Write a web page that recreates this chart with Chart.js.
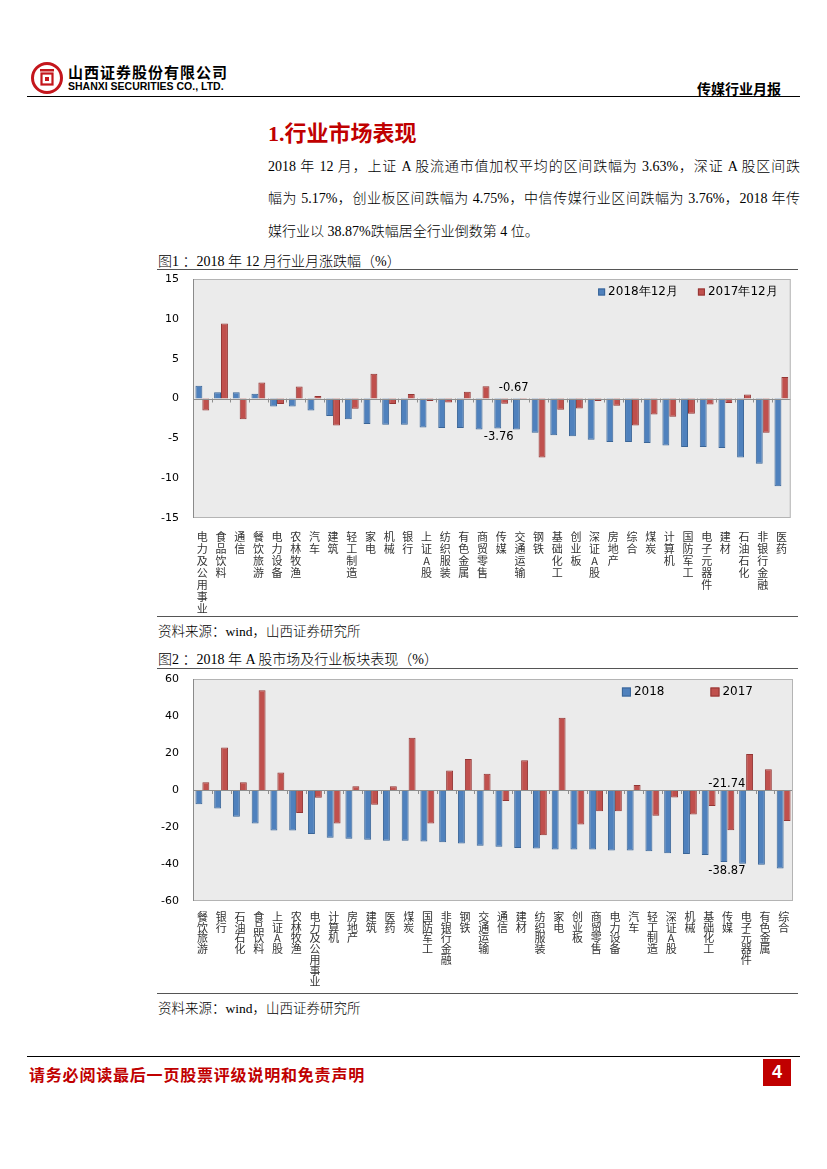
<!DOCTYPE html>
<html>
<head>
<meta charset="utf-8">
<script src="https://cdn.jsdelivr.net/npm/chart.js"></script>
<style>
  body { margin: 0; background: #fff; }
  .page { position: relative; width: 827px; height: 1169px; overflow: hidden; color: #000;
          font-family: "Liberation Serif", "Noto Sans CJK SC", serif; }
  .abs { position: absolute; white-space: nowrap; }
  .rule { position: absolute; height: 0; }
  .cn { font-family: "Noto Sans CJK SC", sans-serif; }
  .para { position: absolute; left: 268px; width: 532px; font-size: 14px; line-height: 20px; font-weight: 300; }
  .just { text-align: justify; text-align-last: justify; }
  .figtitle { font-size: 14px; font-weight: 300; }
  .src { font-size: 13.5px; font-weight: 300; }
  .box { position: absolute; }
</style>
</head>
<body>
<div class="page">
  <!-- header -->
  <svg class="abs" style="left:30px;top:61px" width="34" height="34" viewBox="0 0 34 34">
    <circle cx="17" cy="17" r="14.5" fill="none" stroke="#c4161c" stroke-width="3"/>
    <rect x="10" y="8" width="14" height="2.5" fill="#c4161c"/>
    <rect x="11.5" y="12.5" width="11" height="11" fill="none" stroke="#c4161c" stroke-width="2.2"/>
    <rect x="15" y="16" width="4" height="4" fill="#c4161c"/>
  </svg>
  <div class="abs cn" style="left:68px;top:61px;font-size:15px;font-weight:700;letter-spacing:1px;">山西证券股份有限公司</div>
  <div class="abs" style="left:68px;top:80px;font-family:'Liberation Sans',sans-serif;font-size:10.5px;font-weight:700;">SHANXI SECURITIES CO., LTD.</div>
  <div class="abs cn" style="left:697px;top:78px;font-size:14px;font-weight:700;">传媒行业月报</div>
  <div class="rule" style="left:27px;top:96px;width:773px;border-top:1.5px solid #000;"></div>

  <!-- section heading and text -->
  <div class="abs" style="left:268px;top:115px;font-size:22px;font-weight:700;color:#c00000;">1.<span class="cn">行业市场表现</span></div>
  <div class="para just" style="top:157px;">2018 年 12 月，上证 A 股流通市值加权平均的区间跌幅为 3.63%，深证 A 股区间跌</div>
  <div class="para just" style="top:189px;">幅为 5.17%，创业板区间跌幅为 4.75%，中信传媒行业区间跌幅为 3.76%，2018 年传</div>
  <div class="para" style="top:222px;">媒行业以 38.87%跌幅居全行业倒数第 4 位。</div>

  <!-- figure 1 -->
  <div class="abs figtitle" style="left:158px;top:250px;">图1 ：2018 年 12 月行业月涨跌幅（%）</div>
  <div class="rule" style="left:157px;top:269px;width:641px;border-top:1.5px solid #555;"></div>
  <div class="box" style="left:150px;top:272px;width:650px;height:345px;"><canvas id="chart1"></canvas></div>
  <div class="rule" style="left:157px;top:616px;width:641px;border-top:1.5px solid #555;"></div>
  <div class="abs src" style="left:158px;top:620px;">资料来源：wind，山西证券研究所</div>

  <!-- figure 2 -->
  <div class="abs figtitle" style="left:158px;top:648px;">图2 ：2018 年 A 股市场及行业板块表现（%）</div>
  <div class="rule" style="left:157px;top:668px;width:641px;border-top:1.5px solid #555;"></div>
  <div class="box" style="left:150px;top:672px;width:650px;height:322px;"><canvas id="chart2"></canvas></div>
  <div class="rule" style="left:157px;top:993px;width:641px;border-top:1.5px solid #555;"></div>
  <div class="abs src" style="left:158px;top:997px;">资料来源：wind，山西证券研究所</div>

  <!-- footer -->
  <div class="rule" style="left:27px;top:1056px;width:773px;border-top:1.5px solid #000;"></div>
  <div class="abs cn" style="left:29px;top:1062px;font-size:16px;font-weight:700;letter-spacing:0.8px;color:#c00000;">请务必阅读最后一页股票评级说明和免责声明</div>
  <div class="abs" style="left:763px;top:1059px;width:28px;height:27px;background:#c00000;color:#fff;font-family:'Liberation Sans',sans-serif;font-size:18px;font-weight:700;text-align:center;line-height:27px;">4</div>
</div>

<script>
// chart 1: 2018年12月行业月涨跌幅
const cats1 = ["电力及公用事业", "食品饮料", "通信", "餐饮旅游", "电力设备", "农林牧渔", "汽车", "建筑",
  "轻工制造", "家电", "机械", "银行", "上证A股", "纺织服装", "有色金属", "商贸零售",
  "传媒", "交通运输", "钢铁", "基础化工", "创业板", "深证A股", "房地产", "综合",
  "煤炭", "计算机", "国防军工", "电子元器件", "建材", "石油石化", "非银行金融", "医药"];
const dec2018 = [1.6, 0.8, 0.8, 0.6, -1.0, -1.0, -1.5, -2.2,
  -2.6, -3.2, -3.3, -3.3, -3.63, -3.7, -3.7, -3.9,
  -3.76, -3.9, -4.3, -4.6, -4.75, -5.17, -5.45, -5.45,
  -5.6, -5.9, -6.1, -6.1, -6.2, -7.4, -8.2, -11.0];
const dec2017 = [-1.5, 9.4, -2.6, 2.0, -0.7, 1.5, 0.3, -3.4,
  -1.3, 3.1, -0.7, 0.55, -0.3, -0.5, 0.85, 1.55,
  -0.67, -0.15, -7.4, -1.4, -1.25, -0.3, -0.9, -3.4,
  -2.0, -2.3, -1.9, -0.75, -0.55, 0.5, -4.3, 2.7];
const yTicks1 = [-15, -10, -5, 0, 5, 10, 15];
const legend1 = ["2018年12月", "2017年12月"];

// chart 2: 2018年A股市场及行业板块表现
const cats2 = ["餐饮旅游", "银行", "石油石化", "食品饮料", "上证A股", "农林牧渔", "电力及公用事业", "计算机",
  "房地产", "建筑", "医药", "煤炭", "国防军工", "非银行金融", "钢铁", "交通运输",
  "通信", "建材", "纺织服装", "家电", "创业板", "商贸零售", "电力设备", "汽车",
  "轻工制造", "深证A股", "机械", "基础化工", "传媒", "电子元器件", "有色金属", "综合"];
const year2018 = [-7.7, -10.0, -14.4, -18.1, -21.9, -21.9, -23.8, -25.8,
  -26.3, -26.9, -27.4, -27.4, -27.8, -28.3, -28.9, -30.2,
  -30.7, -31.3, -31.6, -32.2, -32.2, -32.2, -32.7, -32.7,
  -33.1, -34.2, -34.6, -35.1, -38.87, -39.9, -40.4, -42.4];
const year2017 = [4.2, 23.0, 4.2, 53.9, 9.5, -12.4, -4.2, -18.1,
  2.0, -8.0, 2.0, 28.3, -18.1, 10.6, 16.8, 8.8,
  -5.9, 16.1, -24.5, 39.1, -18.6, -11.5, -11.5, 2.7,
  -13.9, -4.0, -13.3, -8.6, -21.74, 19.4, 11.2, -16.8];
const yTicks2 = [-60, -40, -20, 0, 20, 40, 60];
const legend2 = ["2018", "2017"];

const blue = "#4f81bd", blueEdge = "#3a6597";
const red = "#c0504d", redEdge = "#943634";
const numFont = "DejaVu Sans";

// plot panel, zero line, legend and point labels
const panelPlugin = {
  id: "panel",
  beforeDraw(chart) {
    const { ctx, chartArea: a } = chart;
    ctx.save();
    ctx.fillStyle = "#ebebeb";
    ctx.fillRect(a.left, a.top, a.right - a.left, a.bottom - a.top);
    ctx.restore();
  },
  afterDatasetsDraw(chart, args, opts) {
    const { ctx, chartArea: a } = chart;
    const y0 = chart.scales.y.getPixelForValue(0);
    const n = chart.data.labels.length;
    const step = (a.right - a.left) / n;
    ctx.save();
    ctx.strokeStyle = "#8e8e8e";
    ctx.lineWidth = 1;
    ctx.beginPath();
    ctx.moveTo(a.left, Math.round(y0) + 0.5);
    ctx.lineTo(a.right, Math.round(y0) + 0.5);
    for (let k = 1; k < n; k++) {
      const x = Math.round(a.left + k * step) + 0.5;
      ctx.moveTo(x, y0);
      ctx.lineTo(x, y0 + 4);
    }
    ctx.stroke();

    // border
    ctx.strokeStyle = "#b4b4b4";
    ctx.strokeRect(a.left + 0.5, a.top + 0.5, a.right - a.left - 1, a.bottom - a.top - 1);
    ctx.strokeStyle = "#8a8a8a";
    ctx.beginPath();
    ctx.moveTo(a.left + 0.5, a.top);
    ctx.lineTo(a.left + 0.5, a.bottom);
    ctx.stroke();

    // legend
    const lg = opts.legend;
    ctx.font = lg.size + "px " + numFont;
    ctx.textBaseline = "middle";
    ctx.textAlign = "left";
    let xr = a.right - lg.right;
    const ly = a.top + lg.top;
    for (let i = lg.items.length - 1; i >= 0; i--) {
      const it = lg.items[i];
      const tw = ctx.measureText(it.text).width;
      const tx = xr - tw;
      const sx = tx - 3 - lg.box;
      ctx.fillStyle = it.color;
      ctx.fillRect(sx, ly - lg.box / 2, lg.box, lg.box);
      ctx.strokeStyle = it.edge;
      ctx.strokeRect(sx + 0.5, ly - lg.box / 2 + 0.5, lg.box - 1, lg.box - 1);
      ctx.fillStyle = "#000";
      ctx.fillText(it.text, tx, ly);
      xr = sx - lg.gap;
    }

    // value labels
    ctx.font = "11.5px " + numFont;
    ctx.textAlign = "center";
    ctx.fillStyle = "#000";
    opts.labels.forEach(l => {
      const bar = chart.getDatasetMeta(l.ds).data[l.index];
      const v = chart.data.datasets[l.ds].data[l.index];
      const y = l.atZero ? y0 + l.dy : bar.y + l.dy;
      ctx.fillText(v.toFixed(2), bar.x + l.dx, y);
    });
    ctx.restore();
  }
};

function buildChart(id, cats, s1, s2, names, yTicks, xHeight, tickPad, lineH, legendOpts, labels) {
  const ctx = document.getElementById(id);
  return new Chart(ctx, {
    type: "bar",
    data: {
      labels: cats.map(c => Array.from(c)),
      datasets: [
        { label: names[0], data: s1, backgroundColor: blue, borderColor: blueEdge, borderWidth: 1,
          categoryPercentage: 0.74, barPercentage: 1.0 },
        { label: names[1], data: s2, backgroundColor: red, borderColor: redEdge, borderWidth: 1,
          categoryPercentage: 0.74, barPercentage: 1.0 }
      ]
    },
    options: {
      responsive: true,
      maintainAspectRatio: false,
      animation: false,
      layout: { padding: { left: 0, right: 7, top: 7, bottom: 0 } },
      plugins: {
        legend: { display: false },
        tooltip: { enabled: false },
        panel: {
          legend: Object.assign({
            items: [
              { text: names[0], color: blue, edge: blueEdge },
              { text: names[1], color: red, edge: redEdge }
            ]
          }, legendOpts),
          labels: labels
        }
      },
      scales: {
        x: {
          grid: { display: false, drawTicks: false },
          border: { display: false },
          ticks: {
            autoSkip: false, maxRotation: 0, minRotation: 0, padding: tickPad,
            color: "#333",
            font: { family: "Noto Sans CJK SC", size: 11, lineHeight: lineH }
          },
          afterFit(scale) { scale.height = xHeight; }
        },
        y: {
          min: yTicks[0],
          max: yTicks[yTicks.length - 1],
          grid: { display: false, drawTicks: false },
          border: { display: false },
          afterBuildTicks(scale) { scale.ticks = yTicks.map(v => ({ value: v })); },
          ticks: { padding: 14, color: "#000", font: { family: numFont, size: 11 } },
          afterFit(scale) {
            scale.width = 43;
            scale.paddingTop = 0;
            scale.paddingBottom = 0;
          }
        }
      }
    },
    plugins: [panelPlugin]
  });
}

buildChart("chart1", cats1, dec2018, dec2017, legend1, yTicks1, 99, 13, 1.09,
  { size: 12, box: 7, gap: 20, right: 13, top: 13 },
  [
    { ds: 0, index: 16, dx: 1, dy: 9, atZero: false },
    { ds: 1, index: 16, dx: 9, dy: -10, atZero: true }
  ]);

buildChart("chart2", cats2, year2018, year2017, legend2, yTicks2, 93, 10, 0.99,
  { size: 12, box: 9, gap: 46, right: 40, top: 13 },
  [
    { ds: 0, index: 28, dx: 3, dy: 9, atZero: false },
    { ds: 1, index: 28, dx: -4, dy: -6, atZero: true }
  ]);
</script>
</body>
</html>
